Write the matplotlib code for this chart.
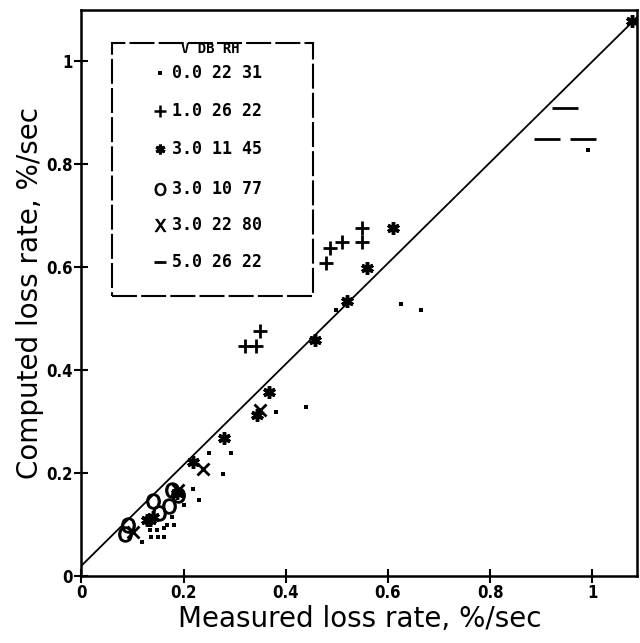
# computed vs measured loss rate, scatter with 1:1 line and table legend
import numpy as np
import matplotlib
matplotlib.use("Agg")
import matplotlib.pyplot as plt
import matplotlib.patches as patches

# V = 0.0, DB 22, RH 31
dot_x = [0.119, 0.135, 0.148, 0.161, 0.137, 0.151, 0.161, 0.168, 0.181, 0.177, 0.200,
         0.230, 0.219, 0.278, 0.250, 0.292, 0.381, 0.439, 0.498, 0.626, 0.665, 0.992]
dot_y = [0.067, 0.089, 0.089, 0.093, 0.076, 0.076, 0.076, 0.099, 0.099, 0.115, 0.138,
         0.148, 0.170, 0.198, 0.239, 0.239, 0.318, 0.329, 0.517, 0.528, 0.517, 0.827]
# V = 1.0, DB 26, RH 22
plus_x = [0.549, 0.549, 0.510, 0.487, 0.479, 0.350, 0.321, 0.342]
plus_y = [0.677, 0.649, 0.649, 0.638, 0.608, 0.476, 0.447, 0.447]
# V = 3.0, DB 11, RH 45
star_x = [0.609, 0.558, 0.520, 0.458, 0.368, 0.344, 0.280, 0.219, 1.078,
          0.135, 0.128, 0.141, 0.187]
star_y = [0.677, 0.599, 0.535, 0.458, 0.358, 0.313, 0.269, 0.222, 1.078,
          0.109, 0.109, 0.115, 0.161]
# V = 3.0, DB 10, RH 77
o_x = [0.085, 0.091, 0.140, 0.153, 0.172, 0.177, 0.190]
o_y = [0.081, 0.100, 0.146, 0.123, 0.137, 0.167, 0.157]
# V = 3.0, DB 22, RH 80
x_x = [0.102, 0.190, 0.238, 0.350]
x_y = [0.086, 0.167, 0.209, 0.322]
# V = 5.0, DB 26, RH 22
dash_x = [0.947, 0.911, 0.981]
dash_y = [0.910, 0.849, 0.849]

legend_sym = [".", "+", "*", "O", "X", "-"]
legend_v = ["0.0", "1.0", "3.0", "3.0", "3.0", "5.0"]
legend_db = ["22", "26", "11", "10", "22", "26"]
legend_rh = ["31", "22", "45", "77", "80", "22"]

line_x = [0.0, 1.09]
line_y = [0.02, 1.088]

styles = {
    ".": dict(marker="s", ms=2.5, mew=0),
    "+": dict(marker="+", ms=10, mew=2),
    "*": dict(marker=(6, 2, 0), ms=9, mew=2.5),
    "O": dict(marker=r"$\mathsf{O}$", ms=11, mew=0.8),
    "X": dict(marker="x", ms=9, mew=2),
    "-": dict(marker="_", ms=19, mew=2),
}
# smaller glyphs inside the legend table
leg_styles = {
    ".": dict(marker="s", ms=2.5, mew=0),
    "+": dict(marker="+", ms=8, mew=1.8),
    "*": dict(marker=(6, 2, 0), ms=7, mew=2.2),
    "O": dict(marker=r"$\mathsf{O}$", ms=9, mew=0.6),
    "X": dict(marker=r"$\mathsf{X}$", ms=9, mew=0.6),
    "-": dict(marker="_", ms=9, mew=2),
}

fig = plt.figure(figsize=(6.4, 6.43), dpi=100)
ax = fig.add_axes([0.127, 0.104, 0.869, 0.880])

ax.plot(line_x, line_y, color="black", lw=1.3)
for sym, xs, ys in [(".", dot_x, dot_y), ("+", plus_x, plus_y), ("*", star_x, star_y),
                    ("O", o_x, o_y), ("X", x_x, x_y), ("-", dash_x, dash_y)]:
    ax.plot(xs, ys, ls="none", color="black", mfc="black", mec="black", **styles[sym])

ax.set_xlim(0, 1.088)
ax.set_ylim(0, 1.099)
ax.set_xticks([0, 0.2, 0.4, 0.6, 0.8, 1.0])
ax.set_xticklabels(["0", "0.2", "0.4", "0.6", "0.8", "1"])
ax.set_yticks([0, 0.2, 0.4, 0.6, 0.8, 1.0])
ax.set_yticklabels(["0", "0.2", "0.4", "0.6", "0.8", "1"])
ax.tick_params(direction="inout", length=10, width=1.5, pad=1)
for lab in ax.get_xticklabels() + ax.get_yticklabels():
    lab.set_fontweight("bold")
    lab.set_fontsize(12)
    lab.set_fontstretch("condensed")
for s in ax.spines.values():
    s.set_linewidth(1.8)

ax.set_xlabel("Measured loss rate, %/sec", fontsize=20, family="DejaVu Sans", labelpad=2)
ax.set_ylabel("Computed loss rate, %/sec", fontsize=20, family="DejaVu Sans", labelpad=2)

# table-style legend box
box = patches.Rectangle((0.056, 0.495), 0.361, 0.448, transform=ax.transAxes,
                        fill=False, lw=1.5, ls=(0, (12, 2)), color="black")
ax.add_patch(box)
mono = dict(family="DejaVu Sans Mono", fontweight="bold", fontsize=12,
            transform=ax.transAxes, va="center", ha="left")
ax.text(0.180, 0.932, "V DB RH", family="DejaVu Sans Mono", fontweight="bold",
        fontsize=10, transform=ax.transAxes, va="center", ha="left")
row_y = [0.889, 0.822, 0.754, 0.685, 0.620, 0.555]
for i, sym in enumerate(legend_sym):
    ax.plot([0.142], [row_y[i]], ls="none", color="black", transform=ax.transAxes,
            **leg_styles[sym])
    ax.text(0.163, row_y[i], f"{legend_v[i]} {legend_db[i]} {legend_rh[i]}", **mono)

fig.savefig("out.png", dpi=100)
